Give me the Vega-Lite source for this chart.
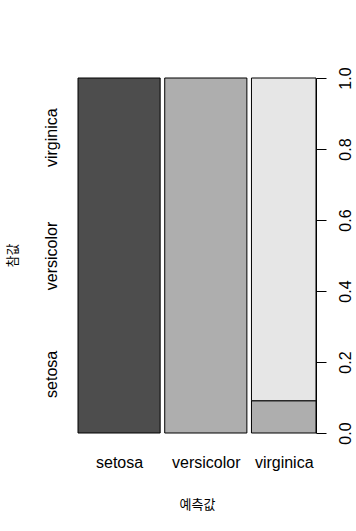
{
  "$schema": "https://vega.github.io/schema/vega-lite/v6.json",
  "autosize": {"type": "none"},
  "padding": {"left": 78, "top": 78, "right": 40, "bottom": 98},
  "width": 238,
  "height": 355,
  "background": "white",
  "config": {
    "view": {"stroke": null},
    "axis": {
      "labelFont": "Liberation Sans",
      "labelFontSize": 16,
      "labelColor": "black",
      "titleFont": "Liberation Sans, Noto Sans CJK KR",
      "titleFontSize": 13,
      "titleFontWeight": "normal",
      "titleColor": "black",
      "grid": false
    }
  },
  "data": {
    "values": [
      {"pred": "setosa", "actual": "setosa", "n": 14},
      {"pred": "versicolor", "actual": "versicolor", "n": 14},
      {"pred": "virginica", "actual": "versicolor", "n": 1},
      {"pred": "virginica", "actual": "virginica", "n": 10}
    ]
  },
  "transform": [
    {"joinaggregate": [{"op": "sum", "field": "n", "as": "colN"}], "groupby": ["pred"]},
    {"joinaggregate": [{"op": "sum", "field": "n", "as": "total"}]},
    {"window": [{"op": "sum", "field": "n", "as": "cum"}], "sort": [{"field": "pred"}, {"field": "actual"}], "frame": [null, 0]},
    {"joinaggregate": [{"op": "max", "field": "cum", "as": "ce"}], "groupby": ["pred"]},
    {"window": [{"op": "dense_rank", "as": "r"}], "sort": [{"field": "pred"}]},
    {"calculate": "(datum.ce - datum.colN) / datum.total + (datum.r - 1) * 0.02", "as": "xs"},
    {"calculate": "datum.ce / datum.total + (datum.r - 1) * 0.02", "as": "xe"},
    {"stack": "n", "groupby": ["pred"], "sort": [{"field": "actual"}], "offset": "normalize", "as": ["y0", "y1"]}
  ],
  "layer": [
    {
      "mark": {"type": "bar", "stroke": "black", "strokeWidth": 1},
      "encoding": {
        "x": {
          "field": "xs", "type": "quantitative",
          "scale": {"domain": [0, 1.04], "nice": false, "zero": false},
          "axis": {
            "orient": "bottom",
            "title": "예측값",
            "values": [0.1795, 0.5585, 0.899],
            "labelExpr": "datum.value < 0.4 ? 'setosa' : datum.value < 0.8 ? 'versicolor' : 'virginica'",
            "domain": false, "ticks": false, "tickSize": 0,
            "labelPadding": 29, "labelBaseline": "middle", "labelFlush": false,
            "titleY": 71, "titleBaseline": "middle"
          }
        },
        "x2": {"field": "xe"},
        "y": {
          "field": "y0", "type": "quantitative",
          "scale": {"domain": [0, 1], "nice": false},
          "axis": {
            "orient": "left",
            "title": "참값",
            "values": [0.16667, 0.5, 0.83333],
            "labelExpr": "datum.value < 0.3 ? 'setosa' : datum.value < 0.7 ? 'versicolor' : 'virginica'",
            "domain": false, "ticks": false, "tickSize": 0,
            "labelAngle": -90, "labelAlign": "center", "labelBaseline": "middle",
            "labelPadding": 27, "labelFlush": false,
            "titleAngle": -90, "titleX": -66, "titleY": 177, "titleBaseline": "middle", "titleAlign": "center"
          }
        },
        "y2": {"field": "y1"},
        "fill": {
          "field": "actual", "type": "nominal",
          "scale": {"domain": ["setosa", "versicolor", "virginica"], "range": ["#4D4D4D", "#AEAEAE", "#E6E6E6"]},
          "legend": null
        }
      }
    },
    {
      "mark": {"type": "bar", "opacity": 0},
      "encoding": {
        "x": {"field": "xs", "type": "quantitative", "scale": {"domain": [0, 1.04], "nice": false, "zero": false}},
        "x2": {"field": "xe"},
        "y": {
          "field": "y0", "type": "quantitative",
          "scale": {"domain": [0, 1], "nice": false},
          "axis": {
            "orient": "right",
            "title": null,
            "values": [0, 0.2, 0.4, 0.6, 0.8, 1.0],
            "format": ".1f",
            "domain": true, "domainColor": "black", "domainWidth": 1,
            "ticks": true, "tickColor": "black", "tickSize": 10, "tickWidth": 1,
            "labelAngle": -90, "labelAlign": "center", "labelBaseline": "middle",
            "labelPadding": 19, "labelFlush": false
          }
        },
        "y2": {"field": "y1"}
      }
    }
  ],
  "resolve": {"scale": {"y": "independent"}}
}
